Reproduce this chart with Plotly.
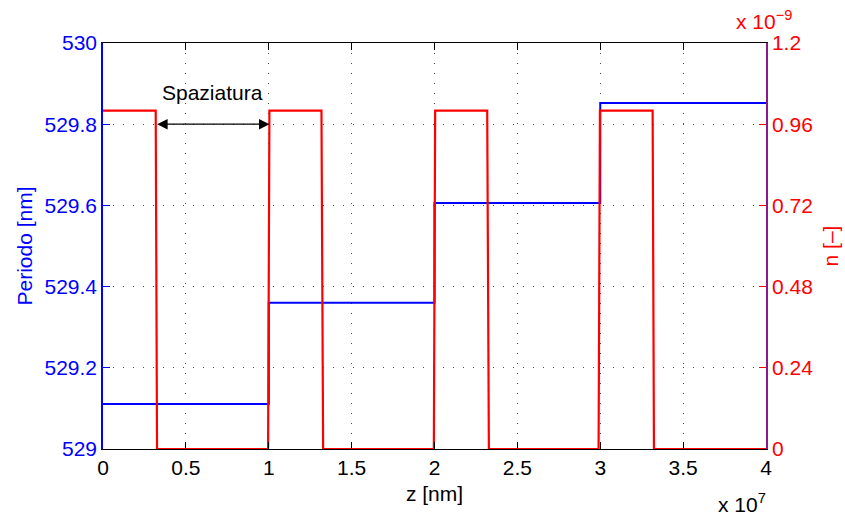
import plotly.graph_objects as go

# ---- data ----
z_period = [0, 1.0e7, 1.0e7, 2.0e7, 2.0e7, 3.0e7, 3.0e7, 4.0e7]
periodo = [529.111, 529.111, 529.360, 529.360, 529.606, 529.606, 529.852, 529.852]

z_n = [0, 0.318e7, 0.326e7, 0.996e7, 1.004e7, 1.318e7, 1.328e7,
       1.996e7, 2.004e7, 2.318e7, 2.328e7, 2.990e7, 2.998e7, 3.316e7, 3.324e7, 4.0e7]
n_vals = [1.0e-9, 1.0e-9, 0, 0, 1.0e-9, 1.0e-9, 0, 0,
          1.0e-9, 1.0e-9, 0, 0, 1.0e-9, 1.0e-9, 0, 0]

x_tickvals = [0, 0.5e7, 1.0e7, 1.5e7, 2.0e7, 2.5e7, 3.0e7, 3.5e7, 4.0e7]
x_ticktext = ["0", "0.5", "1", "1.5", "2", "2.5", "3", "3.5", "4"]
y_tickvals = [529, 529.2, 529.4, 529.6, 529.8, 530]
y_ticktext = ["529", "529.2", "529.4", "529.6", "529.8", "530"]
y2_tickvals = [0, 0.24e-9, 0.48e-9, 0.72e-9, 0.96e-9, 1.2e-9]
y2_ticktext = ["0", "0.24", "0.48", "0.72", "0.96", "1.2"]

FONT = "Liberation Sans, Arial, Helvetica, sans-serif"
FS = 21

fig = go.Figure()
fig.add_trace(go.Scatter(x=z_period, y=periodo, mode="lines",
                         line=dict(color="#0000ff", width=2), yaxis="y",
                         showlegend=False))
fig.add_trace(go.Scatter(x=z_n, y=n_vals, mode="lines",
                         line=dict(color="#ff0000", width=2.2), yaxis="y2",
                         showlegend=False))

fig.update_layout(
    width=845, height=516,
    margin=dict(l=103, r=79, t=43, b=67),
    paper_bgcolor="white", plot_bgcolor="white",
    font=dict(family=FONT, size=FS, color="black"),
    xaxis=dict(range=[0, 4e7], tickvals=x_tickvals, ticktext=x_ticktext,
               ticks="inside", ticklen=7, tickcolor="black",
               showline=True, linecolor="black", linewidth=1, mirror="ticks",
               showgrid=True, gridcolor="#444444", griddash="1px,9px", gridwidth=1,
               zeroline=False, automargin=False,
               title=dict(text="z [nm]", font=dict(size=FS), standoff=8),
               tickfont=dict(size=FS, color="black")),
    yaxis=dict(range=[529, 530],
               tickvals=y_tickvals, ticktext=y_ticktext,
               ticks="inside", ticklen=7, tickcolor="#0000ff",
               showline=True, linecolor="#0000ff", linewidth=1.5,
               showgrid=True, gridcolor="#3333ff", griddash="1px,9px", gridwidth=1,
               zeroline=False, automargin=False,
               tickfont=dict(size=FS, color="#0000ff"),
               title=dict(text="Periodo [nm]", font=dict(size=FS, color="#0000ff"),
                          standoff=6)),
    yaxis2=dict(range=[0, 1.2e-9], overlaying="y", side="right",
                tickvals=y2_tickvals, ticktext=y2_ticktext,
                ticks="inside", ticklen=7, tickcolor="#ff0000",
                showline=True, linecolor="#8a1a8a", linewidth=1.5,
                showgrid=False, zeroline=False, automargin=False,
                tickfont=dict(size=FS, color="#ff0000"),
                title=dict(text="n [–]", font=dict(size=FS, color="#ff0000"),
                           standoff=11)),
)

# arrow between end of first red pulse and start of second
fig.add_annotation(x=z_n[4], y=529.8, ax=z_n[1], ay=529.8,
                   xref="x", yref="y", axref="x", ayref="y",
                   text="", showarrow=True, arrowside="end+start",
                   arrowhead=2, arrowsize=1.6, arrowwidth=1.3,
                   arrowcolor="black", standoff=0, startstandoff=0)
fig.add_annotation(x=(z_n[1] + z_n[4]) / 2, y=529.877, xref="x", yref="y",
                   text="Spaziatura", showarrow=False,
                   font=dict(size=FS, color="black"))

# exponent labels
fig.add_annotation(x=1.0, y=0, xref="paper", yref="paper",
                   xanchor="center", yanchor="middle", yshift=-54, xshift=-24,
                   text="x 10<sup>7</sup>", showarrow=False,
                   font=dict(size=FS, color="black"))
fig.add_annotation(x=1.0, y=1.0, xref="paper", yref="paper",
                   xanchor="left", yanchor="bottom", xshift=-32, yshift=8,
                   text="x 10<sup>−9</sup>", showarrow=False,
                   font=dict(size=FS, color="#ff0000"))

fig.write_html("out.html", config={"displayModeBar": False},
               post_script="document.body.style.margin='0';document.body.style.overflow='hidden';")
